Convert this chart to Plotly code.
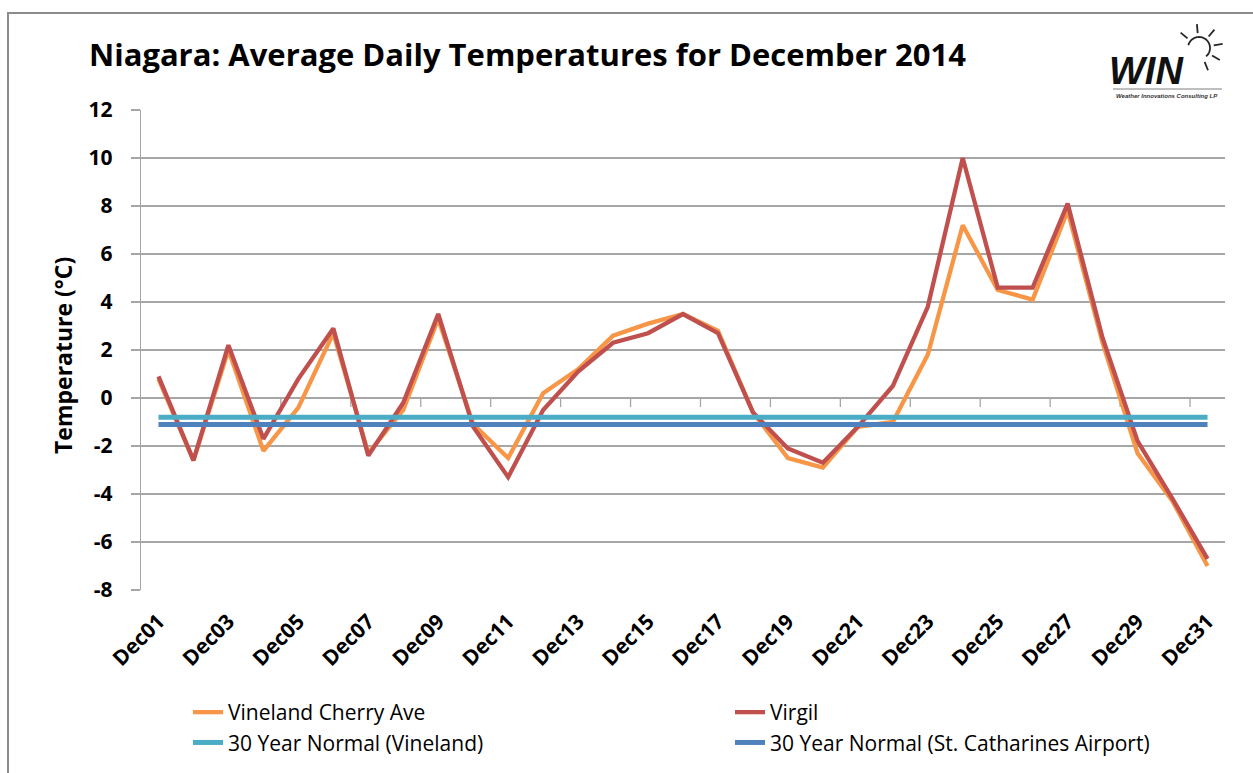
import math
import plotly.graph_objects as go

# ---------------- data ----------------
categories = ["Dec%02d" % d for d in range(1, 32)]
vineland = [0.8, -2.6, 2.0, -2.2, -0.4, 2.7, -2.3, -0.5, 3.3, -1.1,
            -2.5, 0.2, 1.2, 2.6, 3.1, 3.5, 2.8, -0.6, -2.5, -2.9,
            -1.2, -1.0, 1.8, 7.2, 4.5, 4.1, 7.8, 2.3, -2.3, -4.3, -7.0]
virgil = [0.9, -2.6, 2.2, -1.7, 0.8, 2.9, -2.4, -0.2, 3.5, -1.2,
          -3.3, -0.5, 1.1, 2.3, 2.7, 3.5, 2.7, -0.6, -2.1, -2.7,
          -1.2, 0.5, 3.8, 10.0, 4.6, 4.6, 8.1, 2.5, -1.8, -4.2, -6.7]
normal_vineland = -0.8
normal_stcath = -1.1
tick_labels = categories[::2]
y_ticks = list(range(-8, 13, 2))
y_tick_text = [str(v) for v in y_ticks]

# ---------------- layout geometry ----------------
FW, FH = 1253, 773
ML, MR, MT, MB = 141, 28, 110, 183
PW, PH = FW - ML - MR, FH - MT - MB


def px(x):
    return (x - ML) / PW


def py(y):
    return (FH - MB - y) / PH


FONT = "Open Sans"

fig = go.Figure()
series = [
    ("Vineland Cherry Ave", vineland, "#F79646", 4.3),
    ("Virgil", virgil, "#C0504D", 4.3),
    ("30 Year Normal (Vineland)", [normal_vineland] * len(categories), "#4BACC6", 5),
    ("30 Year Normal (St. Catharines Airport)", [normal_stcath] * len(categories), "#4F81BD", 5),
]
for name, vals, col, w in series:
    fig.add_trace(go.Scatter(x=categories, y=vals, mode="lines", name=name,
                             line=dict(color=col, width=w), hoverinfo="skip"))

shapes = []
# x-axis tick marks at category boundaries on the zero line
for k in range(1, 16):
    xb = -0.5 + 2 * k
    shapes.append(dict(type="line", xref="x", yref="y", x0=xb, x1=xb, y0=0, y1=-0.38,
                       line=dict(color="#A6A6A6", width=1.3), layer="below"))
# outer chart frame: one path along the left and top edges
frame_path = "M %f,%f L %f,%f L %f,%f" % (px(8), py(FH + 5), px(8), py(13), px(FW + 5), py(13))
shapes.append(dict(type="path", xref="paper", yref="paper", path=frame_path,
                   line=dict(color="#8C8C8C", width=2)))
# logo: underline
shapes.append(dict(type="line", xref="paper", yref="paper", x0=px(1113), x1=px(1222),
                   y0=py(89), y1=py(89), line=dict(color="#7F7F7F", width=1)))
# logo: sun arc + rays
cx, cy, r = 1199, 48, 11
pts = []
for i in range(0, 41):
    a = math.radians(165 - i * (215 / 40))
    pts.append((px(cx + r * math.cos(a)), py(cy - r * math.sin(a))))
path = "M " + " L ".join("%f,%f" % p for p in pts)
shapes.append(dict(type="path", xref="paper", yref="paper", path=path,
                   line=dict(color="#262626", width=1.8)))
for ang in [140, 95, 50, 10, -30, -68]:
    a = math.radians(ang)
    shapes.append(dict(type="line", xref="paper", yref="paper",
                       x0=px(cx + 15 * math.cos(a)), y0=py(cy - 15 * math.sin(a)),
                       x1=px(cx + 24 * math.cos(a)), y1=py(cy - 24 * math.sin(a)),
                       line=dict(color="#262626", width=1.8)))

annotations = [
    dict(text="<b>Temperature (°C)</b>", xref="paper", yref="paper", x=px(63), y=py(356),
         textangle=-90, showarrow=False, font=dict(family=FONT, size=23, color="#000"),
         xanchor="center", yanchor="middle"),
    dict(text="<b><i>WIN</i></b>", xref="paper", yref="paper", x=px(1146), y=py(71),
         showarrow=False, font=dict(family="Liberation Sans", size=38, color="#111"),
         xanchor="center", yanchor="middle"),
    dict(text="<b><i>Weather Innovations Consulting LP</i></b>", xref="paper", yref="paper",
         x=px(1167), y=py(96), showarrow=False,
         font=dict(family="Liberation Sans", size=6, color="#333"),
         xanchor="center", yanchor="middle"),
]

fig.update_layout(
    width=FW, height=FH,
    margin=dict(l=ML, r=MR, t=MT, b=MB),
    paper_bgcolor="white", plot_bgcolor="white",
    hovermode=False,
    title=dict(text="<b>Niagara: Average Daily Temperatures for December 2014</b>",
               x=89 / FW, xanchor="left", xref="container",
               y=1 - 55 / FH, yanchor="middle", yref="container",
               font=dict(family=FONT, size=31, color="#000")),
    xaxis=dict(type="category", range=[-0.5, 30.5], tickmode="array",
               tickvals=tick_labels, ticktext=tick_labels, tickangle=-45,
               showgrid=False, zeroline=False, showline=False, ticks="",
               ticklabelstandoff=14,
               tickfont=dict(family=FONT, size=21, color="#000", weight="bold")),
    yaxis=dict(range=[-8, 12], tickmode="array", tickvals=y_ticks, ticktext=y_tick_text,
               showgrid=True, gridcolor="#A6A6A6", gridwidth=1.3,
               zeroline=False, showline=True, linecolor="#A6A6A6", linewidth=1.3,
               ticks="outside", ticklen=9, tickcolor="#A6A6A6", tickwidth=1.3,
               ticklabelstandoff=14,
               tickfont=dict(family=FONT, size=21, color="#000", weight="bold")),
    showlegend=True,
    legend=dict(orientation="h", x=188 / FW, y=1 - 692 / FH, xanchor="left", yanchor="top",
                xref="container", yref="container",
                entrywidth=497, entrywidthmode="pixels",
                font=dict(family=FONT, size=21, color="#000"),
                bgcolor="rgba(0,0,0,0)", traceorder="normal"),
    shapes=shapes,
    annotations=annotations,
)

fig.write_html("out.html", config={"displayModeBar": False, "staticPlot": True},
               post_script="document.body.style.margin='0';")
